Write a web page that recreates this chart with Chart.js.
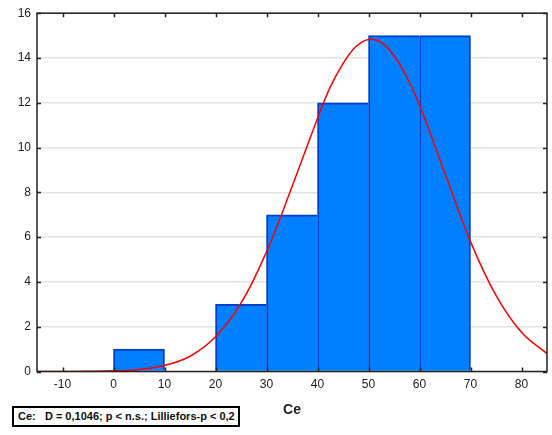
<!DOCTYPE html>
<html>
<head>
<meta charset="utf-8">
<script src="https://cdn.jsdelivr.net/npm/chart.js@4.4.0/dist/chart.umd.min.js"></script>
<style>
body { margin: 0; background: #fff; }
#wrap { position: relative; width: 552px; height: 435px; }
#stat {
    position: absolute; left: 12px; top: 406px; height: 17px;
    border: 2px solid #000; background: #fff;
    font: bold 11px "Liberation Sans", Arial, sans-serif; color: #111;
    line-height: 17px; white-space: pre; padding: 0 3px 0 4px;
}
</style>
</head>
<body>
<div id="wrap">
<canvas id="histChart" width="552" height="435"></canvas>
<div id="stat">Ce:   D = 0,1046; p &lt; n.s.; Lilliefors-p &lt; 0,2</div>
</div>
<script>
// histogram bins (centre of each 10-wide class) and counts
var binCenters = [5, 15, 25, 35, 45, 55, 65];
var binCounts = [1, 0, 3, 7, 12, 15, 15];

// expected normal curve
var curveX = [-15, -10, -5, 0, 5, 10, 15, 20, 25, 30, 35, 40, 42.5, 45, 47.5, 50, 52.5, 55, 57.5, 60, 65, 70, 75, 80, 85];
var curveY = [0, 0, 0.01, 0.03, 0.09, 0.27, 0.68, 1.55, 3.05, 5.35, 8.25, 11.3, 12.7, 13.75, 14.5, 14.83, 14.7, 14.1, 13.15, 11.9, 8.85, 5.8, 3.4, 1.75, 0.8];

var xTicks = [-10, 0, 10, 20, 30, 40, 50, 60, 70, 80];
var yTicks = [0, 2, 4, 6, 8, 10, 12, 14, 16];

var tickFont = { family: 'Liberation Sans', size: 12 };

// inward tick marks on all four sides + frame
var frame = {
    id: 'frame',
    afterDraw: function (chart) {
        var ctx = chart.ctx, a = chart.chartArea;
        var x = chart.scales.x, y = chart.scales.y;
        ctx.save();
        ctx.strokeStyle = '#222';
        ctx.lineWidth = 1.5;
        ctx.beginPath();
        xTicks.forEach(function (v) {
            var px = Math.round(x.getPixelForValue(v)) + 0.5;
            ctx.moveTo(px, a.bottom); ctx.lineTo(px, a.bottom - 4);
            ctx.moveTo(px, a.top); ctx.lineTo(px, a.top + 4);
        });
        yTicks.forEach(function (v) {
            var py = Math.round(y.getPixelForValue(v)) + 0.5;
            ctx.moveTo(a.left, py); ctx.lineTo(a.left + 4, py);
            ctx.moveTo(a.right, py); ctx.lineTo(a.right - 4, py);
        });
        ctx.stroke();
        ctx.strokeRect(a.left, a.top, a.right - a.left, a.bottom - a.top);
        ctx.restore();
    }
};

// outline every bar once: shared edges drawn by the taller neighbour
function barBorder(c) {
    var i = c.dataIndex, n = binCounts[i];
    if (!n) return 0;
    var next = i + 1 < binCounts.length ? binCounts[i + 1] : 0;
    return { top: 2, left: 2, right: next < n ? 2 : 0, bottom: 0 };
}

new Chart(document.getElementById('histChart'), {
    type: 'bar',
    data: {
        datasets: [
        {
            type: 'line',
            data: curveX.map(function (v, i) { return { x: v, y: curveY[i] }; }),
            borderColor: 'rgb(255, 0, 0)',
            borderWidth: 1.5,
            pointRadius: 0,
            fill: false,
            tension: 0.4,
            order: 0
        },
        {
            data: binCenters.map(function (v, i) { return { x: v, y: binCounts[i] }; }),
            backgroundColor: 'rgb(0, 128, 255)',
            borderColor: 'rgb(0, 64, 200)',
            borderWidth: barBorder,
            borderSkipped: false,
            barPercentage: 1.0,
            categoryPercentage: 1.0,
            order: 1
        }]
    },
    options: {
        responsive: false,
        animation: false,
        layout: { padding: { top: 12, right: 5, left: 0, bottom: 0 } },
        plugins: {
            legend: { display: false },
            tooltip: { enabled: false }
        },
        scales: {
            x: {
                type: 'linear',
                min: -15,
                max: 85,
                offset: false,
                afterBuildTicks: function (s) { s.ticks = xTicks.map(function (v) { return { value: v }; }); },
                afterFit: function (s) { s.height = 63.5; },
                ticks: { font: tickFont, color: '#222', padding: 6, maxRotation: 0 },
                grid: { display: false, drawTicks: false, offset: false },
                border: { display: false },
                title: {
                    display: true,
                    text: 'Ce',
                    color: '#222',
                    font: { family: 'Liberation Sans', size: 14, weight: 'bold' },
                    padding: { top: 0, bottom: 16 }
                }
            },
            y: {
                min: 0,
                max: 16,
                afterBuildTicks: function (s) { s.ticks = yTicks.map(function (v) { return { value: v }; }); },
                afterFit: function (s) { s.width = 37; },
                ticks: { font: tickFont, color: '#222', padding: 6 },
                grid: { color: '#e4e4e4', lineWidth: 1.5, drawTicks: false },
                border: { display: false }
            }
        }
    },
    plugins: [frame]
});
</script>
</body>
</html>
